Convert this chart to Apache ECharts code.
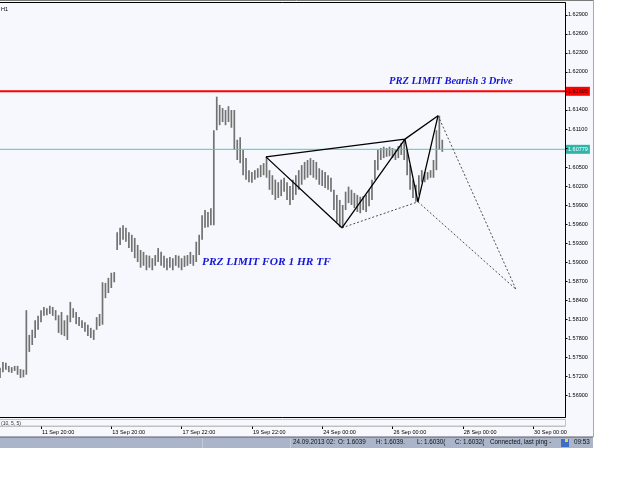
<!DOCTYPE html>
<html><head><meta charset="utf-8">
<script src="https://cdn.jsdelivr.net/npm/echarts@6/dist/echarts.min.js"></script>
<style>html,body{margin:0;padding:0;background:#fff}#c{width:625px;height:500px}</style>
</head><body><div id="c"></div>
<script>
// Hourly EURUSD-like bars, one entry every 2 hours (hour index = 2 * i)
const highs = [
1.5733,1.5742,1.5741,1.5736,1.5734,1.5736,1.5736,1.5731,1.5730,1.5824,
1.5785,1.5793,1.5808,1.5815,1.5824,1.5829,1.5827,1.5831,1.5829,1.5824,
1.5816,1.5821,1.5808,1.5816,1.5837,1.5827,1.5821,1.5813,1.5808,1.5805,
1.5801,1.5796,1.5793,1.5813,1.5818,1.5868,1.5867,1.5875,1.5883,1.5884,
1.5947,1.5954,1.5958,1.5954,1.5947,1.5943,1.5938,1.5927,1.5919,1.5916,
1.5911,1.5910,1.5906,1.5911,1.5922,1.5916,1.5910,1.5906,1.5908,1.5906,
1.5911,1.5910,1.5906,1.5910,1.5911,1.5916,1.5911,1.5932,1.5943,1.5974,
1.5982,1.5979,1.5985,1.6108,1.6161,1.6148,1.6143,1.6140,1.6146,1.6140,
1.6140,1.6093,1.6097,1.6077,1.6064,1.6045,1.6042,1.6045,1.6048,1.6053,
1.6056,1.6066,1.6045,1.6037,1.6030,1.6026,1.6030,1.6033,1.6026,1.6020,
1.6030,1.6037,1.6045,1.6053,1.6058,1.6061,1.6064,1.6061,1.6058,1.6048,
1.6045,1.6042,1.6037,1.6033,1.6014,1.6006,1.5998,1.5990,1.6011,1.6019,
1.6014,1.6009,1.6006,1.6003,1.6004,1.6006,1.6014,1.6030,1.6061,1.6077,
1.6080,1.6082,1.6080,1.6082,1.6080,1.6077,1.6083,1.6088,1.6094,1.6077,
1.6053,1.6030,1.6022,1.6037,1.6045,1.6042,1.6042,1.6045,1.6061,1.6108,1.6131,1.6093];
const lows = [
1.5717,1.5726,1.5730,1.5726,1.5725,1.5728,1.5722,1.5717,1.5718,1.5722,
1.5758,1.5769,1.5780,1.5793,1.5805,1.5815,1.5816,1.5818,1.5815,1.5808,
1.5788,1.5785,1.5783,1.5777,1.5805,1.5812,1.5802,1.5799,1.5796,1.5790,
1.5783,1.5780,1.5777,1.5793,1.5799,1.5801,1.5843,1.5851,1.5859,1.5868,
1.5919,1.5927,1.5935,1.5932,1.5922,1.5916,1.5906,1.5900,1.5891,1.5894,
1.5887,1.5891,1.5887,1.5894,1.5900,1.5894,1.5891,1.5887,1.5891,1.5887,
1.5894,1.5891,1.5887,1.5892,1.5894,1.5897,1.5894,1.5900,1.5911,1.5935,
1.5954,1.5955,1.5958,1.5958,1.6108,1.6116,1.6121,1.6116,1.6121,1.6112,
1.6077,1.6061,1.6056,1.6037,1.6030,1.6026,1.6025,1.6030,1.6033,1.6034,
1.6037,1.6033,1.6014,1.6006,1.5998,1.6001,1.6004,1.6011,1.5998,1.5990,
1.5998,1.6006,1.6014,1.6022,1.6030,1.6033,1.6037,1.6033,1.6030,1.6022,
1.6020,1.6017,1.6014,1.6011,1.5982,1.5963,1.5955,1.5954,1.5982,1.5993,
1.5990,1.5985,1.5979,1.5977,1.5982,1.5979,1.5988,1.5998,1.6030,1.6045,
1.6061,1.6064,1.6066,1.6067,1.6064,1.6061,1.6064,1.6069,1.6061,1.6037,
1.6014,1.6001,1.5995,1.6006,1.6026,1.6026,1.6030,1.6033,1.6033,1.6045,1.6077,1.6074];
const hoursPerBar = 2;

const timeTickHours = [28, 76, 124, 172, 220, 268, 316, 364];
const timeTickLabels = ['11 Sep 20:00','13 Sep 20:00','17 Sep 22:00','19 Sep 22:00','24 Sep 00:00','26 Sep 00:00','28 Sep 00:00','30 Sep 00:00'];
const priceTicks = [1.569,1.572,1.575,1.578,1.581,1.584,1.587,1.590,1.593,1.596,1.599,1.602,1.605,1.608,1.611,1.614,1.617,1.620,1.623,1.626,1.629];
const priceLabelTicks = [1.569,1.572,1.575,1.578,1.581,1.584,1.587,1.590,1.593,1.596,1.599,1.602,1.605,1.611,1.614,1.620,1.623,1.626,1.629];
const redLevel = 1.61695;
const cyanLevel = 1.60779;

// 3-drive pattern points [hour, price]
const drivePath = [[181.6,1.6066],[233.5,1.5954],[276.5,1.6094],[285.4,1.5995],[299.1,1.6131]];
const upperPath = [[181.6,1.6066],[276.5,1.6094],[299.1,1.6131]];
const dotLowLine = [[233.5,1.5954],[285.4,1.5995]];
const dotProjA = [[299.1,1.6131],[352.3,1.5857]];
const dotProjB = [[285.4,1.5995],[352.3,1.5857]];

const xMin = 0, xMax = 385.8, yMin = 1.56553, yMax = 1.63089;

const barData = highs.map((h, i) => [i * hoursPerBar, lows[i], h]);

const chart = echarts.init(document.getElementById('c'), null, {renderer: 'canvas'});
const lineS = (data, dashed) => ({
  type: 'line', data, xAxisIndex: 0, yAxisIndex: 0, symbol: 'none', silent: true,
  lineStyle: dashed ? {color: '#222', width: 0.8, type: [2, 2]} : {color: '#000', width: 1.3},
  z: 5
});
const levelS = (level, color, width, bg, fg) => ({
  type: 'line', data: [[xMin, level], [xMax, level]], xAxisIndex: 0, yAxisIndex: 0,
  symbol: 'none', silent: true, z: 4,
  lineStyle: {color, width, type: 'solid'},
  endLabel: {show: true, distance: 1, formatter: level.toFixed(5), backgroundColor: bg, color: fg,
             padding: [2, 2, 1, 2], fontSize: 5.5, fontFamily: 'Liberation Sans'}
});
const axisFont = {fontFamily: 'Liberation Sans', fontSize: 5.5, color: '#000'};
chart.setOption({
  animation: false,
  backgroundColor: '#ffffff',
  grid: [
    {left: 0, right: 60, top: 3, bottom: 83},
    {left: 0, right: 60, top: 420, height: 6}
  ],
  xAxis: [
    {type: 'value', gridIndex: 0, min: xMin, max: xMax, show: false},
    {type: 'value', gridIndex: 1, min: xMin, max: xMax,
     axisLine: {show: true, onZero: false, lineStyle: {color: '#bdbdbd', width: 1}},
     splitLine: {show: false},
     axisTick: {show: true, customValues: timeTickHours, length: 3, lineStyle: {color: '#000'}},
     axisLabel: Object.assign({customValues: timeTickHours, margin: 3, align: 'left', padding: [0,0,0,1],
       formatter: v => timeTickLabels[timeTickHours.indexOf(v)]}, axisFont)}
  ],
  yAxis: [
    {type: 'value', gridIndex: 0, position: 'right', min: yMin, max: yMax,
     axisLine: {show: true, onZero: false, lineStyle: {color: '#000', width: 1}},
     splitLine: {show: false}, minorTick: {show: false}, splitArea: {show: false},
     axisTick: {show: false},
     axisLabel: Object.assign({customValues: priceLabelTicks, margin: 3, formatter: v => v.toFixed(5)}, axisFont)},
    {type: 'value', gridIndex: 1, show: false}
  ],
  series: [
    {
      type: 'custom', xAxisIndex: 0, yAxisIndex: 0, data: barData, silent: true, z: 3,
      renderItem: (params, api) => {
        const x = api.value(0);
        const p1 = api.coord([x, api.value(2)]);
        const p2 = api.coord([x, api.value(1)]);
        return {type: 'line', shape: {x1: p1[0], y1: p1[1], x2: p2[0], y2: p2[1]},
                style: {stroke: '#727272', lineWidth: 1.7}};
      }
    },
    {
      // price-scale tick marks just right of the frame
      type: 'custom', xAxisIndex: 0, yAxisIndex: 0, silent: true, clip: false, z: 6,
      data: priceTicks.map(p => [xMax, p]),
      renderItem: (params, api) => {
        const p = api.coord([api.value(0), api.value(1)]);
        const y = Math.round(p[1]) + 0.5;
        return {type: 'line', shape: {x1: p[0], y1: y, x2: p[0] + 2.5, y2: y}, style: {stroke: '#000', lineWidth: 1}};
      }
    },
    levelS(redLevel, '#ff0000', 2, '#ff0000', '#300'),
    levelS(cyanLevel, '#4cc9c0', 1, '#2fb5a8', '#ffffff'),
    lineS(drivePath, false),
    lineS(upperPath, false),
    lineS(dotLowLine, true),
    lineS(dotProjA, true),
    lineS(dotProjB, true)
  ],
  graphic: [
    {type: 'rect', z: -100, shape: {x: 0, y: 0, width: 593, height: 437}, style: {fill: '#f7f8fd'}},
    {type: 'line', z: 50, shape: {x1: 0, y1: 0.5, x2: 593, y2: 0.5}, style: {stroke: '#7a7a7a', lineWidth: 1}},
    {type: 'rect', z: 50, shape: {x: -3, y: 2.5, width: 568.5, height: 415}, style: {fill: null, stroke: '#000', lineWidth: 1}},
    {type: 'rect', z: 50, shape: {x: -3, y: 419.5, width: 568.5, height: 6.5}, style: {fill: null, stroke: '#c4c4c4', lineWidth: 1}},
    {type: 'line', z: 50, shape: {x1: 593.5, y1: 0, x2: 593.5, y2: 437}, style: {stroke: '#a9a9a9', lineWidth: 1}},
    {type: 'text', z: 50, left: 1, top: 6, style: {text: 'H1', font: '5.5px "Liberation Sans"', fill: '#000'}},
    {type: 'text', z: 50, left: 1, top: 421, style: {text: '(10, 5, 5)', font: '5px "Liberation Sans"', fill: '#333'}},
    {type: 'text', z: 60, left: 389, top: 76, style: {text: 'PRZ LIMIT Bearish 3 Drive', font: 'italic bold 10.5px "Liberation Sans Narrow"', fill: '#1515d6'}},
    {type: 'text', z: 60, left: 202, top: 257, style: {text: 'PRZ LIMIT FOR 1 HR TF', font: 'italic bold 11.4px "Liberation Sans Narrow"', fill: '#1515d6'}},
    // status bar
    {type: 'rect', z: 40, shape: {x: 0, y: 437, width: 593, height: 11}, style: {fill: '#aab5c9'}},
    {type: 'line', z: 41, shape: {x1: 0, y1: 437, x2: 593, y2: 437}, style: {stroke: '#5a5f6a', lineWidth: 1}},
    {type: 'line', z: 41, shape: {x1: 202.5, y1: 438, x2: 202.5, y2: 448}, style: {stroke: '#c3cbd8', lineWidth: 1}},
    {type: 'line', z: 41, shape: {x1: 290.5, y1: 438, x2: 290.5, y2: 448}, style: {stroke: '#c3cbd8', lineWidth: 1}},
    {type: 'text', z: 42, left: 293, top: 439.5, style: {text: '24.09.2013 02:', font: '6.3px "Liberation Sans"', fill: '#111'}},
    {type: 'text', z: 42, left: 338, top: 439.5, style: {text: 'O: 1.6039', font: '6.3px "Liberation Sans"', fill: '#111'}},
    {type: 'text', z: 42, left: 376, top: 439.5, style: {text: 'H: 1.6039.', font: '6.3px "Liberation Sans"', fill: '#111'}},
    {type: 'text', z: 42, left: 417, top: 439.5, style: {text: 'L: 1.6030(', font: '6.3px "Liberation Sans"', fill: '#111'}},
    {type: 'text', z: 42, left: 455, top: 439.5, style: {text: 'C: 1.6032(', font: '6.3px "Liberation Sans"', fill: '#111'}},
    {type: 'text', z: 42, left: 490, top: 439.5, style: {text: 'Connected, last ping -', font: '6.3px "Liberation Sans"', fill: '#111'}},
    {type: 'rect', z: 42, shape: {x: 561, y: 439, width: 8, height: 8}, style: {fill: '#3d6fc4'}},
    {type: 'rect', z: 43, shape: {x: 565, y: 439, width: 3, height: 3}, style: {fill: '#f0d040'}},
    {type: 'text', z: 42, left: 574, top: 439.5, style: {text: '09:53', font: '6.3px "Liberation Sans"', fill: '#111'}}
  ]
});
</script></body></html>
